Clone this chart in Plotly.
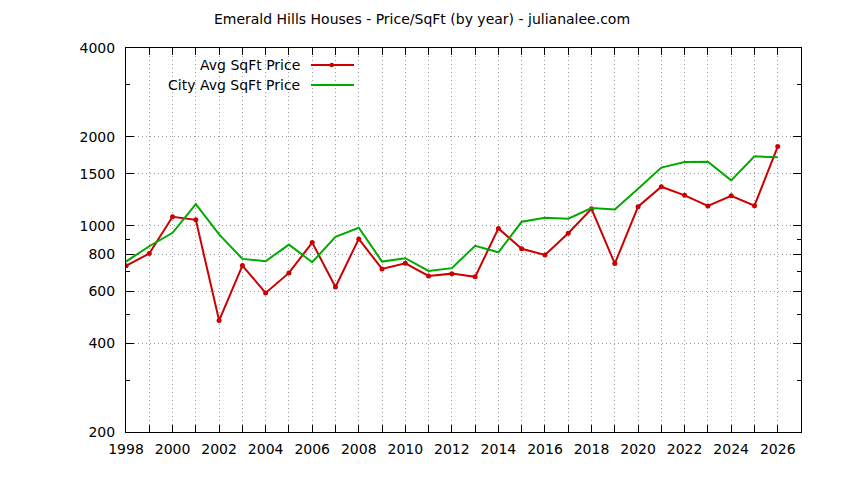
import plotly.graph_objects as go
import math

years = list(range(1998, 2027))
avg_sqft = [731, 805, 1072, 1047, 477, 733, 592, 692, 877, 620, 902, 714, 746, 676,
            688, 671, 979, 835, 796, 943, 1141, 744, 1160, 1355, 1267, 1166, 1263, 1169, 1854]
city_avg_sqft = [756, 852, 946, 1184, 934, 772, 758, 863, 752, 917, 984, 756, 776, 703,
                 718, 855, 813, 1031, 1064, 1056, 1147, 1135, 1335, 1573, 1644, 1648, 1424, 1718, 1705]

y_major = [200, 400, 600, 800, 1000, 1500, 2000, 4000]
y_minor = [300, 500, 700, 900, 3000]
x_range = [1998, 2027]

title = "Emerald Hills Houses - Price/SqFt (by year) - julianalee.com"
names = ["Avg SqFt Price", "City Avg SqFt Price"]
RED = "#cc0000"
GREEN = "#00aa00"
FONT = "DejaVu Sans"
GRID = "#9a9a9a"
GDASH = "1px,3px"

fig = go.Figure()
fig.add_trace(go.Scatter(x=years, y=avg_sqft, mode="lines+markers", name=names[0],
                         line=dict(color=RED, width=2), marker=dict(color=RED, size=5),
                         showlegend=False))
fig.add_trace(go.Scatter(x=years, y=city_avg_sqft, mode="lines", name=names[1],
                         line=dict(color=GREEN, width=2), showlegend=False))
# invisible trace to activate the minor-tick axis
fig.add_trace(go.Scatter(x=[years[0]], y=[avg_sqft[0]], yaxis="y2", mode="markers",
                         marker=dict(opacity=0), showlegend=False, hoverinfo="skip"))

yr = [math.log10(200), math.log10(4000)]

L, R, T, B = 126, 43, 48, 48
W, H = 844, 480
PW, PH = W - L - R, H - T - B

fig.update_layout(
    width=W, height=H,
    margin=dict(l=L, r=R, t=T, b=B),
    paper_bgcolor="white", plot_bgcolor="white",
    font=dict(family=FONT, size=14, color="black"),
    title=dict(text=title, x=0.5, xanchor="center", y=1 - 19 / H, yanchor="middle",
               font=dict(family=FONT, size=14, color="black")),
    xaxis=dict(range=x_range, tickmode="linear", tick0=1998, dtick=2,
               ticks="inside", ticklen=7, tickcolor="black", mirror="ticks",
               showline=True, linecolor="black", linewidth=1,
               showgrid=True, gridcolor=GRID, griddash=GDASH, gridwidth=1,
               zeroline=False, ticklabelstandoff=4,
               minor=dict(dtick=1, tick0=1998, ticks="inside", ticklen=7, tickcolor="black",
                          showgrid=True, gridcolor=GRID, griddash=GDASH, gridwidth=1),
               tickfont=dict(family=FONT, size=14)),
    yaxis=dict(type="log", range=yr, tickmode="array", tickvals=y_major,
               ticktext=[str(v) for v in y_major],
               ticks="inside", ticklen=8, tickcolor="black", mirror="ticks",
               showline=True, linecolor="black", linewidth=1,
               showgrid=True, gridcolor=GRID, griddash=GDASH, gridwidth=1,
               zeroline=False, ticklabelstandoff=7, tickfont=dict(family=FONT, size=14)),
    yaxis2=dict(type="log", range=yr, overlaying="y", side="left", tickmode="array",
                tickvals=y_minor, showticklabels=False, ticks="inside", ticklen=4,
                tickcolor="black", mirror="ticks", showgrid=False, zeroline=False,
                showline=False),
)

def px(x):
    return (x - L) / PW

def py(y):
    return (H - B - y) / PH

# gnuplot-style key: right-aligned text, sample to the right
legend_y = [65, 85]
for i, (nm, col) in enumerate(zip(names, [RED, GREEN])):
    yp = py(legend_y[i])
    fig.add_annotation(text=nm, xref="paper", yref="paper", x=px(302),
                       y=yp, xanchor="right", yanchor="middle", showarrow=False,
                       font=dict(family=FONT, size=14, color="black"))
    fig.add_shape(type="line", xref="paper", yref="paper",
                  x0=px(311), x1=px(354), y0=yp, y1=yp,
                  line=dict(color=col, width=2))
fig.add_shape(type="circle", xref="paper", yref="paper",
              x0=px(329.5), x1=px(334), y0=py(67.3), y1=py(62.8),
              fillcolor=RED, line=dict(color=RED, width=0))

fig.write_html("out.html", config={"displayModeBar": False},
               post_script="document.body.style.margin='0px';document.body.style.padding='0px';")
